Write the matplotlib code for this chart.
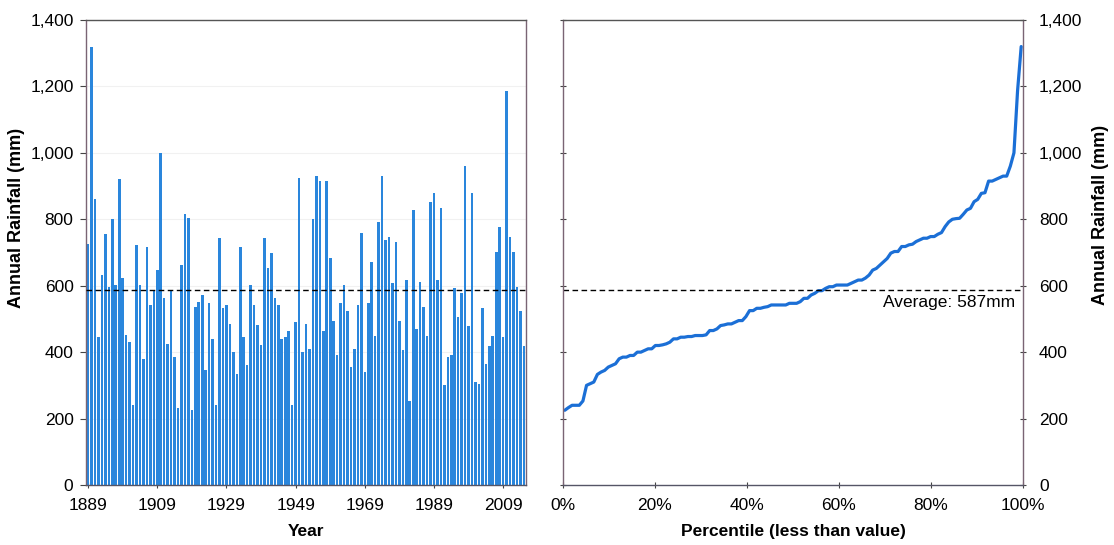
import numpy as np
import matplotlib
matplotlib.use("Agg")
import matplotlib.pyplot as plt
from matplotlib.ticker import FuncFormatter, PercentFormatter

plt.rcParams['font.family'] = ['Liberation Sans', 'DejaVu Sans']

# Annual rainfall totals (mm), one value per year starting 1889
start_year = 1889
rainfall = [
    725, 1320, 860, 447, 632, 755, 597, 800, 602, 920, 623, 452, 430, 240, 723, 602, 380, 718, 542, 585, 647,
    1000, 562, 425, 585, 385, 233, 662, 815, 803, 225, 535, 552, 572, 345, 547, 440, 240, 743, 532, 542, 485,
    400, 333, 718, 447, 360, 602, 542, 482, 422, 743, 652, 698, 562, 542, 440, 445, 465, 240, 490, 925, 400,
    485, 410, 802, 930, 915, 465, 915, 682, 495, 390, 547, 602, 525, 355, 410, 542, 760, 340, 547, 672, 450,
    792, 930, 738, 748, 607, 733, 495, 405, 617, 253, 828, 470, 612, 537, 450, 853, 878, 617, 833, 300, 385,
    390, 592, 507, 577, 960, 480, 880, 310, 305, 532, 365, 420, 450, 703, 778, 445, 1187, 748, 703, 597, 525, 420,
]
years = np.arange(start_year, start_year + len(rainfall))
year_ticks = [1889, 1909, 1929, 1949, 1969, 1989, 2009]
average = 587
y_ticks = [0, 200, 400, 600, 800, 1000, 1200, 1400]

# Percentile curve: sorted totals against the share of years below each value
sorted_rain = np.sort(rainfall)
n = len(sorted_rain)
pct = (np.arange(n) + 0.5) / n * 100

W, H = 1114, 545
fig = plt.figure(figsize=(W / 100, H / 100), dpi=100)

spine_col = '#7a6474'
bar_col = '#2a86dc'
line_col = '#1b6fd6'
tick_fs = 12.5
title_fs = 12.5
ylab_fs = 13
comma = FuncFormatter(lambda v, p: f"{int(v):,}")

def px_axes(x0, y0, x1, y1):
    return fig.add_axes([x0 / W, 1 - y1 / H, (x1 - x0) / W, (y1 - y0) / H])

def style_frame(ax):
    for s in ax.spines.values():
        s.set_color(spine_col)
        s.set_linewidth(1.0)
    ax.spines['top'].set_color('#555555')
    ax.spines['bottom'].set_color('#555566')

# ---- left: annual bars ----
ax1 = px_axes(86, 20, 526, 485)
for ytk in y_ticks[1:]:
    ax1.axhline(ytk, color='#f1f1f1', lw=0.8, zorder=0)
ax1.bar(years, rainfall, width=0.75, color=bar_col, edgecolor='none', zorder=2)
ax1.axhline(average, color='black', lw=1.0, ls=(0, (4, 2.5)), zorder=3)
ax1.set_xlim(start_year - 0.6, years[-1] + 0.6)
ax1.set_ylim(0, 1400)
ax1.set_yticks(y_ticks)
ax1.yaxis.set_major_formatter(comma)
ax1.set_xticks(year_ticks)
ax1.tick_params(axis='both', labelsize=tick_fs, color='#444444', width=0.8)
ax1.tick_params(axis='y', length=4, pad=5)
ax1.tick_params(axis='x', direction='inout', length=5, pad=7)
ax1.set_ylabel('Annual Rainfall (mm)', fontsize=ylab_fs, fontweight='bold')
ax1.yaxis.set_label_coords(-0.139, 0.574)
ax1.set_xlabel('Year', fontsize=title_fs, fontweight='bold', labelpad=8)
style_frame(ax1)

# ---- right: percentile curve ----
ax2 = px_axes(563, 20, 1023, 485)
ax2.plot(pct, sorted_rain, color=line_col, lw=2.3, solid_joinstyle='round', solid_capstyle='round')
ax2.axhline(average, color='black', lw=1.0, ls=(0, (4, 2.5)))
ax2.text(98.3, 572, f'Average: {average}mm', ha='right', va='top', fontsize=12.5)
ax2.set_xlim(0, 100)
ax2.set_ylim(0, 1400)
ax2.set_xticks([0, 20, 40, 60, 80, 100])
ax2.xaxis.set_major_formatter(PercentFormatter(decimals=0))
ax2.set_yticks(y_ticks)
ax2.yaxis.set_major_formatter(comma)
ax2.yaxis.tick_right()
ax2.tick_params(axis='y', which='both', left=True, right=True, direction='inout', length=5, pad=9)
ax2.tick_params(axis='x', direction='inout', length=5, pad=7)
ax2.tick_params(axis='both', labelsize=tick_fs, color='#444444', width=0.8)
ax2.yaxis.set_label_position('right')
ax2.set_ylabel('Annual Rainfall (mm)', fontsize=ylab_fs, fontweight='bold', rotation=90)
ax2.yaxis.set_label_coords(1.15, 0.58)
ax2.set_xlabel('Percentile (less than value)', fontsize=title_fs, fontweight='bold', labelpad=8)
style_frame(ax2)

fig.savefig('out.png', dpi=100)
